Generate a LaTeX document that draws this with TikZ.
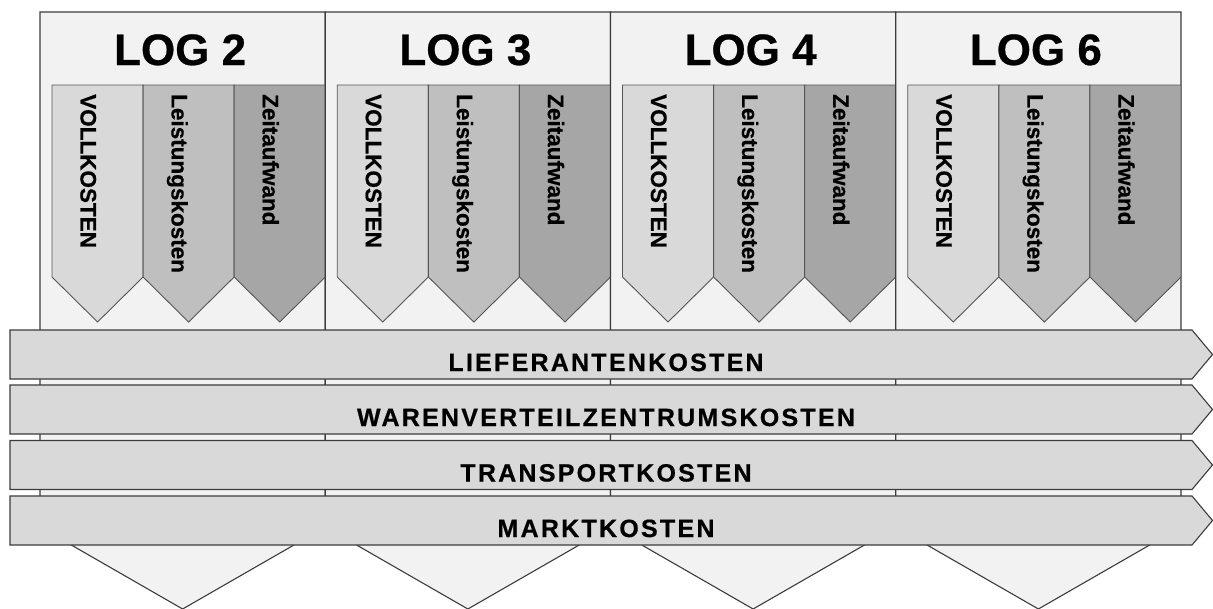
\documentclass[tikz,border=0pt]{standalone}
\usepackage{fontspec}
\setmainfont{Liberation Sans}[BoldFeatures={FakeBold=0.6}]
\newfontfamily\bandfont{Liberation Sans}[LetterSpace=9, BoldFeatures={FakeBold=0.6}]

\definecolor{colbg}{HTML}{F2F2F2}
\definecolor{shadeA}{HTML}{D9D9D9}
\definecolor{shadeB}{HTML}{BFBFBF}
\definecolor{shadeC}{HTML}{A6A6A6}
\definecolor{edge}{HTML}{3C3C3C}
\definecolor{softedge}{HTML}{555555}

\tikzset{
  colbox/.style={fill=colbg, draw=edge, line width=1.1pt, line join=miter},
  kpiarrow/.style={draw=softedge, line width=0.9pt},
  bandarrow/.style={fill=shadeA, draw=edge, line width=1.1pt},
  loglabel/.style={anchor=base, inner sep=0pt,
    font=\fontsize{44}{50}\selectfont\bfseries},
  kpilabel/.style={anchor=base west, rotate=-90, inner sep=0pt,
    font=\fontsize{22.5}{27}\selectfont\bfseries},
  bandlabel/.style={anchor=base, inner sep=0pt,
    font=\bandfont\fontsize{25}{30}\selectfont\bfseries},
}

\begin{document}
\begin{tikzpicture}[x=1pt, y=-1pt]
\useasboundingbox (0,0) rectangle (1213,608);

% four LOG columns, each a tall downward chevron
\foreach \i/\lab in {0/2,1/3,2/4,3/6} {
  \pgfmathsetmacro\xl{40+285.25*\i}
  \pgfmathsetmacro\xr{\xl+285.25}
  \pgfmathsetmacro\xm{\xl+142.625}
  \path[colbox] (\xl,12) -- (\xr,12) -- (\xr,527) -- (\xm,609) -- (\xl,527) -- cycle;
  \node[loglabel] (log\lab) at (\xm-2.5,65) {LOG \lab};
  % three key-figure arrows inside the column
  \foreach \j/\fillc/\txt in {0/shadeA/VOLLKOSTEN,1/shadeB/Leistungskosten,2/shadeC/Zeitaufwand} {
    \pgfmathsetmacro\ax{\xl+12+91.083*\j}
    \pgfmathsetmacro\bx{\ax+91.083}
    \pgfmathsetmacro\cx{\ax+45.54}
    \path[kpiarrow, fill=\fillc] (\ax,85) -- (\bx,85) -- (\bx,277) -- (\cx,322) -- (\ax,277) -- cycle;
    \node[kpilabel] (k\lab-\j) at (\ax+28.5,94) {\txt};
  }
}

% four cost bands crossing all columns
\foreach \t/\n/\txt in {330/a/LIEFERANTENKOSTEN,385/b/WARENVERTEILZENTRUMSKOSTEN,440.5/c/TRANSPORTKOSTEN,496/d/MARKTKOSTEN} {
  \path[bandarrow] (10,\t) -- (1192,\t) -- (1212.5,\t+24.5) -- (1192,\t+49) -- (10,\t+49) -- cycle;
  \node[bandlabel] (band\n) at (606,\t+41) {\txt};
}
\end{tikzpicture}
\end{document}
